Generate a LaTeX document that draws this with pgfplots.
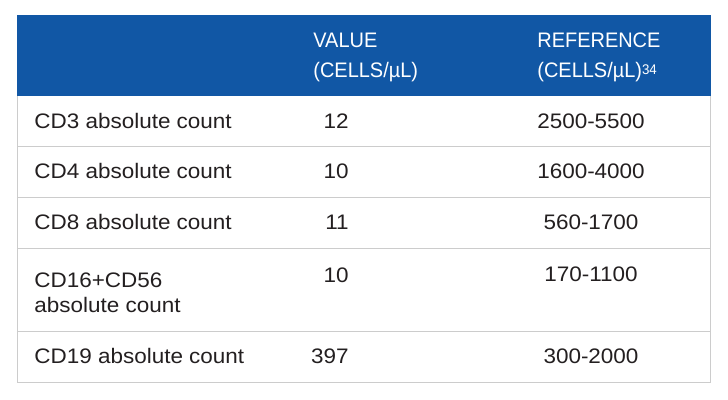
\documentclass[border=0pt]{standalone}
\usepackage{fontspec}
\setmainfont{Liberation Sans}
\newfontfamily\bodyfont[FakeStretch=1.07]{Liberation Sans}
\newfontfamily\headfont[FakeStretch=0.95]{Liberation Sans}
\usepackage{pgfplots}
\pgfplotsset{compat=1.18}
\usepackage{pgfplotstable}
\definecolor{hdr}{RGB}{17,87,165}
\definecolor{gridc}{RGB}{204,204,204}
\definecolor{txt}{RGB}{35,31,32}

\pgfplotstableread[col sep=comma]{
x,y,label
34,129,CD3 absolute count
34,179,CD4 absolute count
34,230,CD8 absolute count
34,288,CD16+CD56
34,313,absolute count
34,364,CD19 absolute count
}\labels

\pgfplotstableread[col sep=comma]{
x,y,value
349,129,12
349,179,10
349,230,11
349,283,10
349,364,397
}\values

\pgfplotstableread[col sep=comma]{
x,y,range
591,129,2500-5500
591,179,1600-4000
591,230,560-1700
591,282,170-1100
591,364,300-2000
}\ranges

\begin{document}
\begin{tikzpicture}
\begin{axis}[
  width=364pt, height=200pt, scale only axis,
  xmin=0, xmax=728, ymin=0, ymax=400, y dir=reverse,
  hide axis, clip=false,
]
\fill[white] (axis cs:0,0) rectangle (axis cs:728,400);
\path (axis cs:0,0) rectangle (axis cs:728,400);
% header
\fill[hdr] (axis cs:17,15) rectangle (axis cs:711,96);
% grid
\draw[gridc, line width=0.75pt] (axis cs:17.3,96) -- (axis cs:17.3,382.7) -- (axis cs:710.3,382.7) -- (axis cs:710.3,96);
\draw[gridc, line width=0.75pt] (axis cs:17.3,146.7) -- (axis cs:710.3,146.7);
\draw[gridc, line width=0.75pt] (axis cs:17.3,197.3) -- (axis cs:710.3,197.3);
\draw[gridc, line width=0.75pt] (axis cs:17.3,248.3) -- (axis cs:710.3,248.3);
\draw[gridc, line width=0.75pt] (axis cs:17.3,331.5) -- (axis cs:710.3,331.5);
% header text
\node[anchor=base west, inner sep=0pt, text=white, font=\headfont\fontsize{10.5}{12}\selectfont] at (axis cs:313,48) {VALUE};
\node[anchor=base west, inner sep=0pt, text=white, font=\headfont\fontsize{10.5}{12}\selectfont] at (axis cs:313,78) {(CELLS/µL)};
\node[anchor=base west, inner sep=0pt, text=white, font=\headfont\fontsize{10.5}{12}\selectfont] at (axis cs:537,48) {REFERENCE};
\node[anchor=base west, inner sep=0pt, text=white, font=\headfont\fontsize{10.5}{12}\selectfont] at (axis cs:537,78) {(CELLS/µL)\raisebox{1.6pt}{\fontsize{7}{8}\selectfont 34}};
% body
\addplot[draw=none, mark=none, nodes near coords, point meta=explicit symbolic,
  nodes near coords style={anchor=base west, inner sep=0pt, text=txt, font=\bodyfont\fontsize{10.5}{12}\selectfont}]
  table[x=x, y=y, meta=label] {\labels};
\addplot[draw=none, mark=none, nodes near coords, point meta=explicit symbolic,
  nodes near coords style={anchor=base east, inner sep=0pt, text=txt, font=\bodyfont\fontsize{10.5}{12}\selectfont}]
  table[x=x, y=y, meta=value] {\values};
\addplot[draw=none, mark=none, nodes near coords, point meta=explicit symbolic,
  nodes near coords style={anchor=base, inner sep=0pt, text=txt, font=\bodyfont\fontsize{10.5}{12}\selectfont}]
  table[x=x, y=y, meta=range] {\ranges};
\end{axis}
\end{tikzpicture}
\end{document}
